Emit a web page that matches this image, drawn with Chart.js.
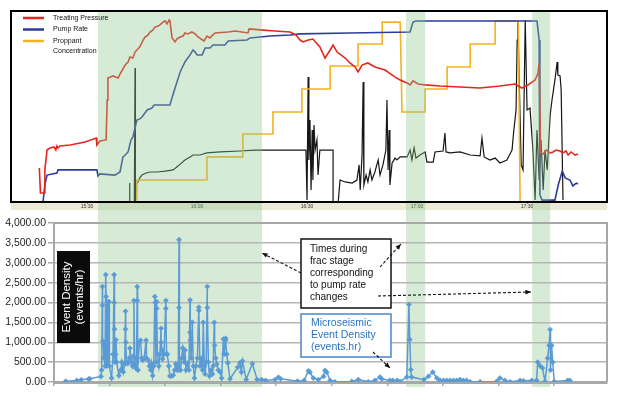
<!DOCTYPE html>
<html>
<head>
<meta charset="utf-8">
<script src="https://cdn.jsdelivr.net/npm/chart.js@4.4.1/dist/chart.umd.min.js"></script>
<style>
  html, body { margin: 0; padding: 0; background: #fff; }
  #wrap { position: relative; width: 620px; height: 397px; }
  #topChart { position: absolute; left: 0; top: 0; }
  #bottomChart { position: absolute; left: 0; top: 211px; }
</style>
</head>
<body>
<div id="wrap">
  <canvas id="topChart" width="620" height="211"></canvas>
  <canvas id="bottomChart" width="620" height="186"></canvas>
</div>
<script>
// time in minutes after 15:00, top values in % of the treatment plot height
const timeTicks = [30, 60, 90, 120, 150];
const bandStart = [33.0, 117.0, 151.4];
const bandEnd = [77.7, 122.2, 156.3];

const pressure = [
  [17.0, 17.8], [17.3, 4.7], [18.3, 4.7], [18.5, 16.8], [19.1, 27.2], [19.9, 28.3], [21.0, 28.8],
  [21.5, 27.2], [21.8, 29.3], [22.1, 28.3], [22.6, 29.3], [25.4, 29.8], [29.5, 31.4], [32.5, 33.5],
  [32.7, 29.8], [33.5, 31.9], [35.2, 32.5], [35.5, 53.4], [35.7, 64.9], [37.1, 66.0], [38.5, 64.9],
  [39.0, 67.0], [40.4, 71.7], [41.2, 73.3], [41.7, 75.9], [42.5, 75.4], [43.1, 78.5], [44.4, 81.2],
  [45.3, 84.8], [45.8, 86.4], [46.6, 87.4], [47.2, 89.0], [48.0, 90.1], [48.5, 91.6], [49.4, 92.2],
  [49.9, 92.7], [50.7, 94.2], [51.3, 94.8], [51.8, 93.2], [52.4, 95.3], [52.6, 94.8], [53.2, 85.9],
  [54.0, 83.8], [54.5, 85.3], [55.4, 86.4], [56.2, 86.9], [56.7, 88.5], [57.5, 88.0], [58.6, 89.0],
  [59.5, 88.0], [60.3, 86.4], [61.9, 84.3], [62.7, 86.9], [63.5, 85.9], [64.9, 88.5], [68.4, 89.0],
  [70.4, 89.5], [73.9, 88.5], [74.2, 90.6], [77.2, 90.1], [81.3, 89.5], [85.4, 89.0], [87.0, 87.4],
  [88.1, 84.8], [88.9, 83.8], [90.3, 84.8], [91.6, 85.3], [93.5, 81.2], [94.9, 75.4], [96.3, 79.6],
  [97.1, 82.2], [98.2, 78.5], [100.4, 75.4], [101.7, 72.8], [103.1, 70.7], [103.9, 68.1], [105.0, 71.7],
  [106.6, 72.8], [108.5, 70.7], [111.3, 69.1], [114.0, 65.4], [115.4, 63.9], [117.3, 62.3], [118.1, 61.3],
  [118.9, 63.4], [120.3, 61.8], [122.2, 61.3], [126.3, 60.7], [131.7, 60.2], [137.2, 59.7], [142.6, 60.7],
  [146.7, 61.8], [148.6, 59.7], [150.3, 61.3], [152.2, 63.9], [153.0, 67.5], [153.3, 72.8], [153.7, 25.7],
  [154.4, 25.1], [155.2, 27.2], [156.3, 25.7], [157.1, 26.2], [157.9, 27.2], [159.0, 26.7], [159.8, 25.7],
  [160.6, 26.7], [161.2, 24.6], [162.0, 26.2], [163.1, 24.6], [163.9, 25.1]
];

const pumpRate = [
  [18.0, 0], [18.5, 8.9], [19.1, 14.1], [20.5, 14.7], [21.8, 15.2], [22.1, 16.8], [32.7, 16.8],
  [33.0, 13.6], [33.5, 14.7], [37.6, 14.1], [39.0, 15.7], [39.8, 23.6], [40.4, 24.6], [41.2, 26.2],
  [42.0, 32.5], [42.5, 34.0], [43.6, 42.9], [44.4, 43.5], [45.0, 44.5], [46.4, 48.2], [47.7, 49.2],
  [48.3, 50.8], [52.6, 50.8], [54.0, 59.7], [55.4, 68.1], [56.7, 73.3], [58.1, 77.0], [58.9, 79.6],
  [59.5, 78.5], [60.0, 77.0], [61.4, 77.0], [62.2, 80.6], [63.5, 80.6], [64.4, 82.2], [67.6, 82.2],
  [68.5, 84.3], [73.6, 84.8], [74.5, 85.9], [79.9, 86.9], [85.4, 87.4], [88.1, 88.0], [101.7, 88.5],
  [118.1, 89.0], [118.9, 94.2], [119.7, 94.8], [137.2, 94.8], [152.7, 94.8], [153.3, 84.8], [153.5, 3.7],
  [154.1, 1.0], [157.6, 1.0], [158.5, 8.9], [159.6, 16.2], [160.4, 12.6], [161.7, 11.5], [162.5, 8.4],
  [163.4, 9.9], [163.9, 9.4]
];

const proppant = [
  [43.6, 0], [43.6, 11.5], [62.7, 11.5], [62.7, 23.6], [72.5, 23.6], [72.5, 35.6], [80.7, 35.6],
  [80.7, 47.1], [88.6, 47.1], [88.6, 59.2], [96.3, 59.2], [96.3, 71.2], [103.9, 71.2], [103.9, 82.7],
  [110.5, 82.7], [110.5, 94.2], [115.4, 94.2], [115.9, 47.1], [122.2, 47.1], [122.2, 59.2], [128.2, 59.2],
  [128.2, 70.7], [134.5, 70.7], [134.5, 82.7], [141.3, 82.7], [141.3, 94.8], [147.6, 94.8], [148.1, 0]
];

const slurry = [
  [41.5, 0], [41.6, 9.9], [41.7, 0], [42.9, 0], [43.1, 70.2], [43.2, 0], [43.4, 8.9], [43.9, 10.5],
  [44.4, 12.6], [45.0, 14.1], [46.1, 15.2], [47.2, 15.7], [49.1, 15.7], [51.3, 16.2], [53.5, 16.8],
  [54.8, 18.8], [56.7, 22.0], [58.1, 23.6], [58.9, 24.6], [60.8, 24.6], [62.7, 25.7], [66.3, 26.2],
  [71.7, 26.7], [75.8, 27.2], [82.6, 27.2], [89.7, 27.2], [90.0, 1.0], [90.3, 65.4], [90.5, 22.0],
  [90.8, 42.9], [91.1, 6.3], [91.4, 37.7], [91.6, 11.5], [91.9, 40.3], [92.2, 27.2], [92.7, 32.5],
  [93.0, 14.1], [93.5, 27.2], [97.1, 27.2], [97.1, 0], [98.5, 0], [99.0, 11.5], [100.4, 10.5],
  [102.3, 9.9], [103.6, 11.5], [104.2, 19.4], [104.5, 6.3], [105.0, 24.6], [105.3, 62.8], [105.5, 8.9],
  [106.1, 14.1], [106.6, 10.5], [107.2, 16.8], [107.7, 11.5], [108.5, 15.7], [109.4, 22.0], [109.9, 14.1],
  [110.7, 19.4], [111.5, 27.2], [111.8, 53.4], [112.1, 16.8], [112.4, 37.7], [112.6, 8.9], [113.2, 20.4],
  [114.0, 23.0], [114.5, 22.0], [115.4, 23.6], [117.3, 23.6], [118.1, 27.2], [118.6, 22.0], [119.2, 28.3],
  [119.7, 23.0], [120.8, 24.6], [122.2, 26.2], [122.7, 20.9], [124.4, 20.9], [124.9, 26.2], [127.1, 26.7],
  [127.6, 36.1], [127.9, 26.2], [129.0, 25.7], [131.7, 26.2], [134.5, 24.6], [137.2, 24.1], [137.7, 33.5],
  [138.3, 23.6], [139.9, 22.0], [141.3, 23.0], [142.6, 20.4], [144.5, 22.0], [145.9, 27.2], [146.4, 37.7],
  [147.0, 48.2], [147.3, 84.8], [147.5, 94.2], [148.4, 19.4], [148.9, 16.8], [149.5, 95.3], [150.0, 48.2],
  [150.8, 49.2], [151.6, 27.2], [152.2, 1.0], [152.7, 37.7], [153.3, 11.5], [153.8, 32.5], [154.4, 6.3],
  [154.9, 27.2], [155.5, 16.8], [156.3, 45.6], [156.8, 53.4], [157.6, 63.9], [158.2, 73.3], [158.4, 66.5],
  [159.0, 66.0], [159.3, 58.6], [159.8, 1.0]
];

// microseismic event density (events/hr)
const densityTicks = [21.0, 36.3, 51.3, 66.5, 81.5, 96.8, 112.1, 127.1, 142.4, 157.4];
const eventDensity = [
  [24.2, 20], [27.2, 40], [28.4, 55], [30.4, 75], [30.8, 80], [33.8, 140],
  [34.0, 300], [34.2, 2400], [34.2, 1930], [34.3, 1030], [34.5, 900], [34.6, 600], [34.7, 1000],
  [34.9, 400], [35.1, 2700], [35.2, 2150], [35.3, 500], [35.4, 400], [35.5, 2000], [35.6, 450],
  [35.8, 700], [36.0, 2020], [36.1, 400], [36.7, 100], [37.1, 700], [37.4, 2700], [37.4, 2000],
  [37.5, 1330], [37.6, 500], [37.8, 700], [37.9, 1060], [38.1, 500], [38.7, 160], [39.2, 300],
  [39.5, 500], [39.9, 250], [40.3, 450], [40.5, 1780], [40.5, 1330], [40.6, 1000], [40.8, 500],
  [41.1, 460], [41.5, 600], [41.7, 850], [42.1, 500], [42.4, 400], [42.6, 650], [42.8, 2050],
  [43.0, 450], [43.3, 350], [43.5, 600], [43.7, 2400], [43.7, 2050], [43.9, 300], [44.3, 1000],
  [44.6, 1050], [44.9, 600], [45.2, 550], [45.6, 600], [46.1, 1050], [46.2, 600], [46.7, 550],
  [47.0, 400], [47.4, 300], [47.6, 460], [47.9, 160], [48.2, 400], [48.5, 2150], [48.6, 2000],
  [48.8, 500], [49.0, 2020], [49.0, 1850], [49.2, 700], [49.6, 400], [49.9, 700], [50.2, 1350],
  [50.2, 1000], [50.5, 800], [50.6, 580], [51.0, 700], [51.5, 2050], [51.5, 1850], [51.7, 700],
  [51.9, 700], [52.3, 400], [52.6, 150], [53.1, 150], [53.5, 170], [53.9, 300], [54.2, 450],
  [54.6, 300], [54.9, 450], [55.1, 3580], [55.1, 1870], [55.3, 300], [55.5, 300], [55.8, 600],
  [56.1, 850], [56.5, 500], [56.7, 800], [57.0, 300], [57.5, 470], [57.8, 300], [58.1, 2060],
  [58.1, 1250], [58.2, 1050], [58.4, 600], [58.7, 1500], [59.0, 400], [59.3, 100], [59.7, 400],
  [60.1, 600], [60.5, 1880], [60.5, 1800], [60.8, 400], [61.1, 580], [61.5, 300], [61.7, 1500],
  [62.0, 400], [62.2, 200], [62.5, 500], [62.8, 2400], [62.8, 1870], [63.1, 500], [63.4, 150],
  [63.8, 300], [64.2, 200], [64.4, 400], [64.7, 1500], [64.8, 920], [65.1, 600], [65.4, 450],
  [65.8, 300], [66.3, 250], [66.7, 100], [67.2, 1080], [67.4, 700], [67.8, 1100], [67.8, 1050],
  [68.1, 700], [68.4, 480], [69.0, 80], [71.1, 370], [71.7, 480], [72.1, 250], [72.4, 530],
  [73.4, 60], [75.1, 460], [76.4, 60], [77.6, 60], [78.7, 40], [81.3, 60], [82.2, 120], [82.8, 80],
  [87.4, 20], [89.2, 40], [90.4, 280], [90.8, 245], [91.7, 100], [93.1, 60], [94.5, 140], [94.9, 290],
  [95.4, 245], [96.3, 40], [97.6, 5], [102.2, 15], [104.0, 60], [106.7, 5], [108.5, 40], [109.9, 125],
  [110.4, 75], [112.6, 40], [113.4, 40], [114.6, 40], [115.4, 15], [117.2, 125], [117.8, 1950],
  [118.0, 1070], [118.3, 310], [118.5, 125], [121.9, 60], [123.1, 140], [124.3, 250], [125.4, 100],
  [126.3, 40], [127.2, 40], [128.1, 40], [129.0, 40], [129.9, 40], [130.8, 40], [131.7, 60],
  [132.6, 40], [133.5, 40], [134.5, 5], [137.2, 5], [141.7, 15], [142.6, 100], [144.0, 40], [145.4, 5],
  [148.1, 40], [149.0, 30], [151.3, 40], [152.6, 40], [152.9, 500], [153.5, 410], [154.2, 350],
  [154.9, 15], [155.6, 600], [156.0, 920], [156.3, 1320], [156.4, 300], [156.7, 920], [157.0, 500],
  [157.4, 15], [161.1, 40], [161.7, 40]
];

const toXY = (pairs) => pairs.map(p => ({ x: p[0], y: p[1] }));
const fontFamily = "'Liberation Sans', Arial, Helvetica, sans-serif";

function clock(t) {
  const h = 15 + Math.floor(t / 60);
  const m = Math.round(t % 60);
  return h + ":" + (m < 10 ? "0" + m : m);
}

const topDecor = {
  id: "topDecor",
  beforeDraw(chart) {
    const { ctx, chartArea } = chart;
    ctx.save();
    ctx.fillStyle = "#ece9d6";
    ctx.fillRect(chartArea.left, chartArea.bottom, chartArea.right - chartArea.left, 8);
    ctx.restore();
  },
  afterDatasetsDraw(chart) {
    const { ctx, chartArea, scales } = chart;
    ctx.save();
    ctx.fillStyle = "rgba(140, 200, 140, 0.36)";
    bandStart.forEach((s, i) => {
      const x1 = scales.x.getPixelForValue(s);
      const x2 = scales.x.getPixelForValue(bandEnd[i]);
      ctx.fillRect(x1, chartArea.top + 1, x2 - x1, chart.height - chartArea.top - 1);
    });
    ctx.restore();
  },
  afterDraw(chart) {
    const { ctx, chartArea } = chart;
    ctx.save();
    ctx.strokeStyle = "#000";
    ctx.lineWidth = 2;
    ctx.strokeRect(chartArea.left, chartArea.top, chartArea.right - chartArea.left, chartArea.bottom - chartArea.top);

    // legend inside the plot
    ctx.font = "7px " + fontFamily;
    ctx.textBaseline = "middle";
    let y = chartArea.top + 7;
    chart.data.datasets.forEach(ds => {
      if (!ds.label) return;
      ctx.strokeStyle = ds.borderColor;
      ctx.lineWidth = 2.5;
      ctx.beginPath();
      ctx.moveTo(chartArea.left + 12, y);
      ctx.lineTo(chartArea.left + 33, y);
      ctx.stroke();
      ctx.fillStyle = "#111";
      let lines = [ds.label];
      if (ctx.measureText(ds.label).width > 60) {
        const cut = ds.label.indexOf(" ");
        lines = [ds.label.slice(0, cut), ds.label.slice(cut + 1)];
      }
      lines.forEach((ln, j) => ctx.fillText(ln, chartArea.left + 42, y + j * 10));
      y += 11.5 + (lines.length - 1) * 10;
    });
    ctx.restore();
  }
};

new Chart(document.getElementById("topChart"), {
  type: "line",
  data: {
    datasets: [
      { label: "Treating Pressure", data: toXY(pressure), borderColor: "#e3261f", borderWidth: 1.6 },
      { label: "Pump Rate", data: toXY(pumpRate), borderColor: "#2b3d9c", borderWidth: 1.6 },
      { label: "Proppant Concentration", data: toXY(proppant), borderColor: "#f4b223", borderWidth: 1.6 },
      { label: "", data: toXY(slurry), borderColor: "#161616", borderWidth: 1.2 }
    ]
  },
  options: {
    responsive: false,
    animation: false,
    layout: { padding: { left: 11, top: 11, right: 13, bottom: 0 } },
    elements: { point: { radius: 0 }, line: { tension: 0 } },
    plugins: { legend: { display: false }, tooltip: { enabled: false } },
    scales: {
      x: {
        type: "linear",
        min: 9.27,
        max: 171.8,
        afterBuildTicks: (axis) => { axis.ticks = timeTicks.map(v => ({ value: v })); },
        afterFit: (axis) => { axis.height = 9; },
        border: { display: false },
        grid: { drawOnChartArea: false, tickLength: 2, color: "#777" },
        ticks: {
          padding: 0,
          maxRotation: 0,
          color: "#333",
          font: { family: fontFamily, size: 5 },
          callback: (v) => clock(v)
        }
      },
      y: { display: false, min: 0, max: 100 }
    }
  },
  plugins: [topDecor]
});

const bottomDecor = {
  id: "bottomDecor",
  beforeDraw(chart) {
    const { ctx, chartArea, scales } = chart;
    ctx.save();
    ctx.fillStyle = "#d7ead6";
    bandStart.forEach((s, i) => {
      const x1 = scales.x.getPixelForValue(s);
      const x2 = scales.x.getPixelForValue(bandEnd[i]);
      ctx.fillRect(x1, 0, x2 - x1, chartArea.bottom + 5);
    });
    ctx.restore();
  },
  afterDraw(chart) {
    const { ctx, chartArea } = chart;
    ctx.save();
    ctx.strokeStyle = "#a8a8a8";
    ctx.lineWidth = 2;
    ctx.beginPath();
    ctx.moveTo(chartArea.left, chartArea.top);
    ctx.lineTo(chartArea.right, chartArea.top);
    ctx.lineTo(chartArea.right, chartArea.bottom);
    ctx.stroke();

    // axis title box
    ctx.fillStyle = "#0b0b0b";
    ctx.fillRect(57, 40, 33, 92);
    ctx.save();
    ctx.translate(73.5, 86);
    ctx.rotate(-Math.PI / 2);
    ctx.fillStyle = "#fff";
    ctx.font = "11.5px " + fontFamily;
    ctx.textAlign = "center";
    ctx.textBaseline = "middle";
    ctx.fillText("Event Density", 0, -6.5);
    ctx.fillText("(events/hr)", 0, 6.5);
    ctx.restore();

    // callout boxes
    ctx.fillStyle = "#fff";
    ctx.fillRect(301, 28, 90, 69);
    ctx.strokeStyle = "#111";
    ctx.lineWidth = 1.5;
    ctx.strokeRect(301, 28, 90, 69);
    ctx.fillRect(301, 103, 90, 43);
    ctx.strokeStyle = "#4a86c8";
    ctx.strokeRect(301, 103, 90, 43);

    ctx.font = "10px " + fontFamily;
    ctx.textBaseline = "middle";
    ctx.fillStyle = "#111";
    ["Times during", "frac stage", "corresponding", "to pump rate", "changes"]
      .forEach((t, i) => ctx.fillText(t, 310, 38 + i * 12));
    ctx.font = "10.5px " + fontFamily;
    ctx.fillStyle = "#2b73c2";
    ["Microseismic", "Event Density", "(events.hr)"]
      .forEach((t, i) => ctx.fillText(t, 311, 112 + i * 12));

    // dashed arrows
    const arrow = (x1, y1, x2, y2) => {
      ctx.strokeStyle = "#111";
      ctx.fillStyle = "#111";
      ctx.lineWidth = 1.1;
      ctx.setLineDash([3, 2]);
      ctx.beginPath();
      ctx.moveTo(x1, y1);
      ctx.lineTo(x2, y2);
      ctx.stroke();
      ctx.setLineDash([]);
      const a = Math.atan2(y2 - y1, x2 - x1);
      ctx.beginPath();
      ctx.moveTo(x2, y2);
      ctx.lineTo(x2 - 6 * Math.cos(a - 0.4), y2 - 6 * Math.sin(a - 0.4));
      ctx.lineTo(x2 - 6 * Math.cos(a + 0.4), y2 - 6 * Math.sin(a + 0.4));
      ctx.closePath();
      ctx.fill();
    };
    arrow(301, 62, 262, 42);
    arrow(380, 56, 401, 33);
    arrow(378, 85, 531, 81);
    arrow(373, 141, 390, 157);
    ctx.restore();
  }
};

new Chart(document.getElementById("bottomChart"), {
  type: "line",
  data: {
    datasets: [{
      label: "Microseismic Event Density (events.hr)",
      data: toXY(eventDensity),
      borderColor: "#5b9bd5",
      backgroundColor: "#5b9bd5",
      borderWidth: 1.5,
      pointStyle: "rectRot",
      pointRadius: 2.6,
      pointBorderWidth: 0.5,
      tension: 0
    }]
  },
  options: {
    responsive: false,
    animation: false,
    layout: { padding: { left: 0, top: 12, right: 13, bottom: 0 } },
    plugins: { legend: { display: false }, tooltip: { enabled: false } },
    scales: {
      x: {
        type: "linear",
        min: 21.0,
        max: 171.8,
        afterBuildTicks: (axis) => { axis.ticks = densityTicks.map(v => ({ value: v })); },
        afterFit: (axis) => { axis.height = 15; },
        border: { color: "#a8a8a8", width: 3 },
        grid: { drawOnChartArea: false, tickLength: 4, color: "#a8a8a8", lineWidth: 1.5 },
        ticks: { display: false }
      },
      y: {
        min: 0,
        max: 4000,
        afterFit: (axis) => { axis.width = 54; },
        border: { color: "#a8a8a8", width: 2 },
        grid: { color: "#b6b6b6", lineWidth: 1.5, tickLength: 6, tickColor: "#a8a8a8" },
        ticks: {
          stepSize: 500,
          padding: 2,
          color: "#1e1e1e",
          font: { family: fontFamily, size: 10.5 },
          callback: (v) => v.toLocaleString("en-US", { minimumFractionDigits: 2, maximumFractionDigits: 2 })
        }
      }
    }
  },
  plugins: [bottomDecor]
});
</script>
</body>
</html>
